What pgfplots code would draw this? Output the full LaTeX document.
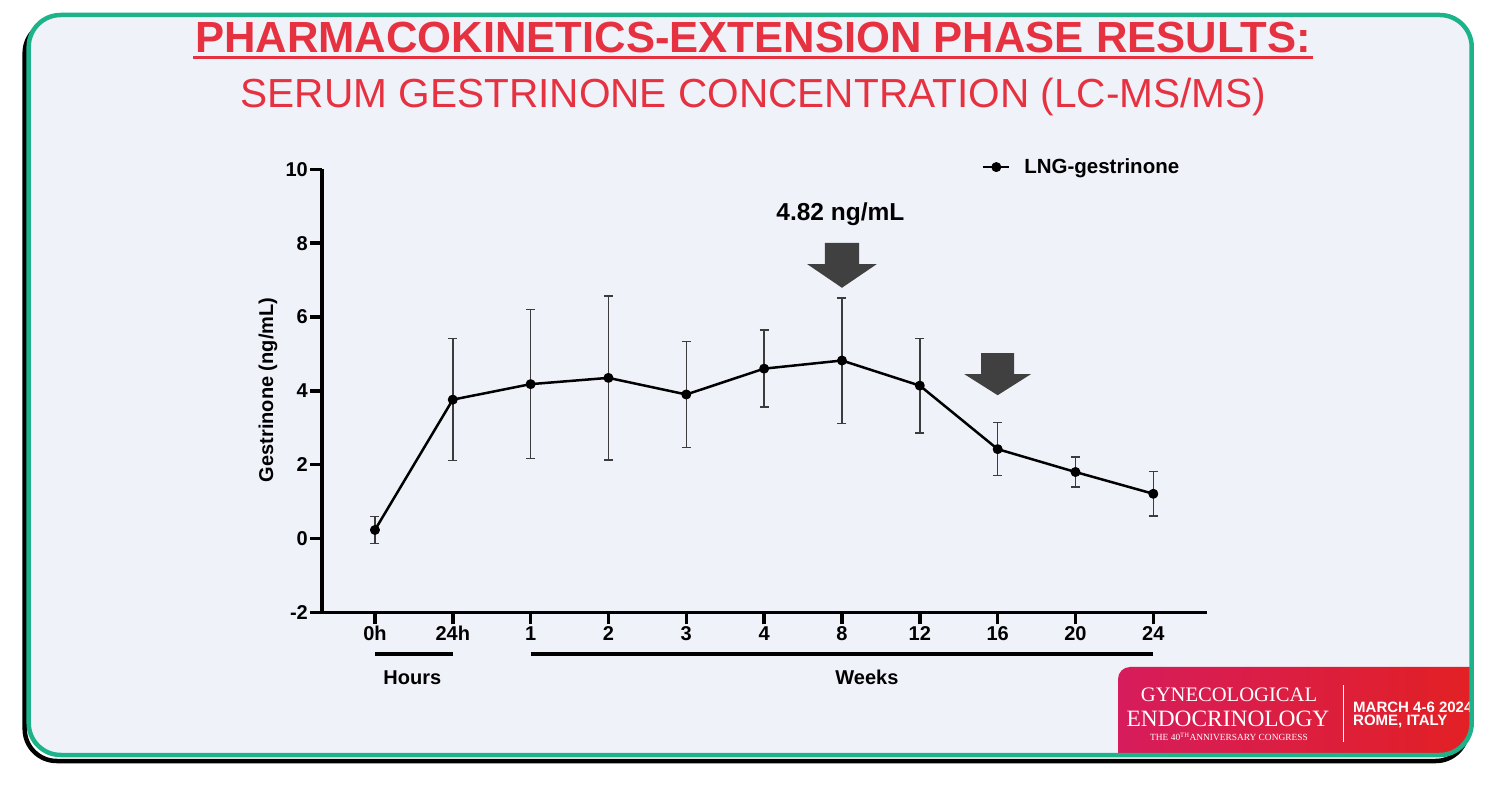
\documentclass[border=0pt]{standalone}
\usepackage{pgfplots}
\usepackage{pgfplotstable}
\pgfplotsset{compat=1.18}
\usepackage{fontspec}
\setmainfont{Liberation Sans}
\newfontfamily\logoserif{Liberation Serif}
\definecolor{slidebg}{RGB}{240,242,250}
\definecolor{slidegreen}{RGB}{28,178,138}
\definecolor{titlered}{RGB}{230,50,64}
\definecolor{arrowgray}{RGB}{64,64,64}
\definecolor{errgray}{RGB}{60,60,60}
\definecolor{logoA}{RGB}{214,28,92}
\definecolor{logoB}{RGB}{226,32,36}

\pgfplotstableread{
x y e
0 0.23 0.36
1 3.76 1.65
2 4.18 2.02
3 4.35 2.22
4 3.90 1.43
5 4.60 1.04
6 4.82 1.70
7 4.14 1.28
8 2.42 0.72
9 1.80 0.41
10 1.21 0.60
}\datatable

\begin{document}
\begin{tikzpicture}
\begin{scope}[x=1bp,y=1bp]
\path[use as bounding box] (0,0) rectangle (1488,786);
\fill[white] (0,0) rectangle (1488,786);
% shadow
\draw[black, line width=4.5bp, rounded corners=32bp] (24.7,25) rectangle (1467.7,765);
% slide
\fill[slidebg, rounded corners=32bp] (28.7,31) rectangle (1471.7,771);
% logo
\begin{scope}
\clip[rounded corners=32bp] (28.7,31) rectangle (1471.7,771);
\shade[left color=logoA, right color=logoB] (1118,29) -- (1118,107) arc (180:90:12) -- (1472,119) -- (1472,29) -- cycle;
\node[white, anchor=base, inner sep=0pt] at (1229,84) {\logoserif\fontsize{20.6bp}{22bp}\selectfont GYNECOLOGICAL};
\node[white, anchor=base, inner sep=0pt] at (1228,59) {\logoserif\fontsize{23.4bp}{25bp}\selectfont ENDOCRINOLOGY};
\node[white, anchor=base, inner sep=0pt] at (1229,45) {\logoserif\fontsize{9.4bp}{10bp}\selectfont THE 40\textsuperscript{TH}ANNIVERSARY CONGRESS};
\draw[white, line width=1bp] (1343,44) -- (1343,101);
\node[white, anchor=base west, inner sep=0pt] at (1353,73) {\fontsize{15bp}{16bp}\selectfont\bfseries MARCH 4-6 2024};
\node[white, anchor=base west, inner sep=0pt] at (1353,60) {\fontsize{15bp}{16bp}\selectfont\bfseries ROME, ITALY};
\end{scope}
\draw[slidegreen, line width=4.5bp, rounded corners=32bp] (28.7,31) rectangle (1471.7,771);
% titles
\node[titlered, anchor=base, inner sep=0pt] at (753,733) {\fontsize{43.6bp}{46bp}\selectfont\bfseries PHARMACOKINETICS-EXTENSION PHASE RESULTS:};
\draw[titlered, line width=3.5bp] (193,728.5) -- (1313,728.5);
\node[titlered, anchor=base, inner sep=0pt] at (753.5,678) {\fontsize{40.6bp}{43bp}\selectfont SERUM GESTRINONE CONCENTRATION (LC-MS/MS)};
\end{scope}

\begin{axis}[
  at={(322bp,173.7bp)}, anchor=south west,
  scale only axis, width=885bp, height=443bp,
  xmin=-0.68, xmax=10.69, ymin=-2, ymax=10,
  axis lines=left,
  axis line style={-, line width=3.5bp, black},
  xtick={0,...,10},
  xticklabels={0h,24h,1,2,3,4,8,12,16,20,24},
  ytick={-2,0,2,4,6,8,10},
  yticklabels={-2,0,2,4,6,8,10},
  tick align=outside, major tick length=12bp,
  tick style={line width=3.5bp, black},
  ticklabel style={font=\fontsize{20bp}{24bp}\selectfont\bfseries},
  xticklabel style={inner sep=2bp},
  yticklabel style={inner sep=2bp},
  ylabel={Gestrinone (ng/mL)},
  ylabel style={at={(axis description cs:-0.061,0.502)}, anchor=center, font=\fontsize{20bp}{24bp}\selectfont\bfseries},
  clip=false,
  legend style={at={(axis cs:7.8,10.06)}, anchor=west, draw=none, fill=none, inner sep=0pt, outer sep=0pt, font=\fontsize{20.5bp}{24bp}\selectfont\bfseries},
  legend image code/.code={\path[draw=none, fill=none] (0bp,0bp) -- (39bp,0bp); \draw[line width=2.5bp,black] (0bp,0bp)--(26bp,0bp); \fill[black] (13bp,0bp) circle (3.7bp);},
]
\addplot[black, line width=2.5bp, line join=round, mark=*, mark size=3.7bp, mark options={solid, fill=black},
  error bars/.cd, y dir=both, y explicit,
  error bar style={line width=1.5bp, errgray},
  error mark=|,
  error mark options={line width=1.5bp, errgray, mark size=4.5bp}]
  table[x=x, y=y, y error=e] {\datatable};
\addlegendentry{LNG-gestrinone}

% arrows
\fill[arrowgray] (axis cs:5.781,8.01) -- (axis cs:6.219,8.01) -- (axis cs:6.219,7.43) -- (axis cs:6.446,7.43) -- (axis cs:6,6.79) -- (axis cs:5.554,7.43) -- (axis cs:5.781,7.43) -- cycle;
\fill[arrowgray] (axis cs:7.788,5.02) -- (axis cs:8.212,5.02) -- (axis cs:8.212,4.45) -- (axis cs:8.427,4.45) -- (axis cs:8,3.88) -- (axis cs:7.573,4.45) -- (axis cs:7.788,4.45) -- cycle;
\node[anchor=base, inner sep=0pt, font=\fontsize{24.5bp}{27bp}\selectfont\bfseries] at (axis cs:5.98,8.6) {4.82 ng/mL};

% hours / weeks
\draw[black, line width=4bp] (axis cs:0,-3.14) -- (axis cs:1,-3.14);
\draw[black, line width=4bp] (axis cs:2,-3.14) -- (axis cs:10,-3.14);
\node[anchor=base, inner sep=0pt, font=\fontsize{20bp}{24bp}\selectfont\bfseries] at (axis cs:0.48,-3.95) {Hours};
\node[anchor=base, inner sep=0pt, font=\fontsize{20bp}{24bp}\selectfont\bfseries] at (axis cs:6.32,-3.95) {Weeks};
\end{axis}
\end{tikzpicture}
\end{document}
